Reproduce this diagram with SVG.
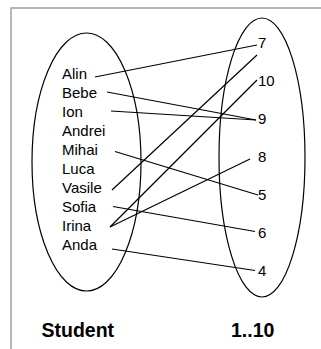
<svg xmlns="http://www.w3.org/2000/svg" width="321" height="349" viewBox="0 0 321 349">
<style>
.frame{stroke:#a0a0a0;stroke-width:1.5;fill:none}
.set{fill:none;stroke:#000;stroke-width:1.2}
.lbl{font-family:"Liberation Sans",Arial,sans-serif;font-size:15px;fill:#000}
.ttl{font-family:"Liberation Sans",Arial,sans-serif;font-size:19.5px;font-weight:bold;fill:#000}
#connectors line{stroke:#000;stroke-width:1.2}
</style>
<rect width="321" height="349" fill="#fff"/>
<path class="frame" d="M11,349 V8 H321"/>
<g id="student-set">
<ellipse class="set" cx="86.5" cy="162" rx="54.5" ry="129"/>
<text class="ttl" x="41.5" y="337">Student</text>
</g>
<g id="number-set">
<ellipse class="set" cx="262" cy="157.5" rx="43" ry="139.5"/>
<text class="ttl" x="231" y="337">1..10</text>
</g>
<g id="student-Alin"><text class="lbl" x="62" y="79">Alin</text></g>
<g id="student-Bebe"><text class="lbl" x="62" y="98">Bebe</text></g>
<g id="student-Ion"><text class="lbl" x="62" y="117">Ion</text></g>
<g id="student-Andrei"><text class="lbl" x="62" y="136">Andrei</text></g>
<g id="student-Mihai"><text class="lbl" x="62" y="155">Mihai</text></g>
<g id="student-Luca"><text class="lbl" x="62" y="174">Luca</text></g>
<g id="student-Vasile"><text class="lbl" x="62" y="193">Vasile</text></g>
<g id="student-Sofia"><text class="lbl" x="62" y="212">Sofia</text></g>
<g id="student-Irina"><text class="lbl" x="62" y="231">Irina</text></g>
<g id="student-Anda"><text class="lbl" x="62" y="250">Anda</text></g>
<g id="num-7"><text class="lbl" x="258" y="48">7</text></g>
<g id="num-10"><text class="lbl" x="258" y="86">10</text></g>
<g id="num-9"><text class="lbl" x="258" y="124">9</text></g>
<g id="num-8"><text class="lbl" x="258" y="162">8</text></g>
<g id="num-5"><text class="lbl" x="258" y="200">5</text></g>
<g id="num-6"><text class="lbl" x="258" y="238">6</text></g>
<g id="num-4"><text class="lbl" x="258" y="276">4</text></g>
<g id="connectors">
<line x1="95" y1="77" x2="257" y2="45"/>
<line x1="107" y1="92" x2="256" y2="120"/>
<line x1="111" y1="111" x2="256" y2="120"/>
<line x1="115" y1="151.5" x2="258" y2="195"/>
<line x1="112" y1="190" x2="257" y2="55"/>
<line x1="113" y1="206.5" x2="255" y2="231.5"/>
<line x1="110" y1="227" x2="257" y2="80"/>
<line x1="110" y1="227" x2="250" y2="159"/>
<line x1="112" y1="249" x2="255" y2="270.5"/>
</g>
</svg>
